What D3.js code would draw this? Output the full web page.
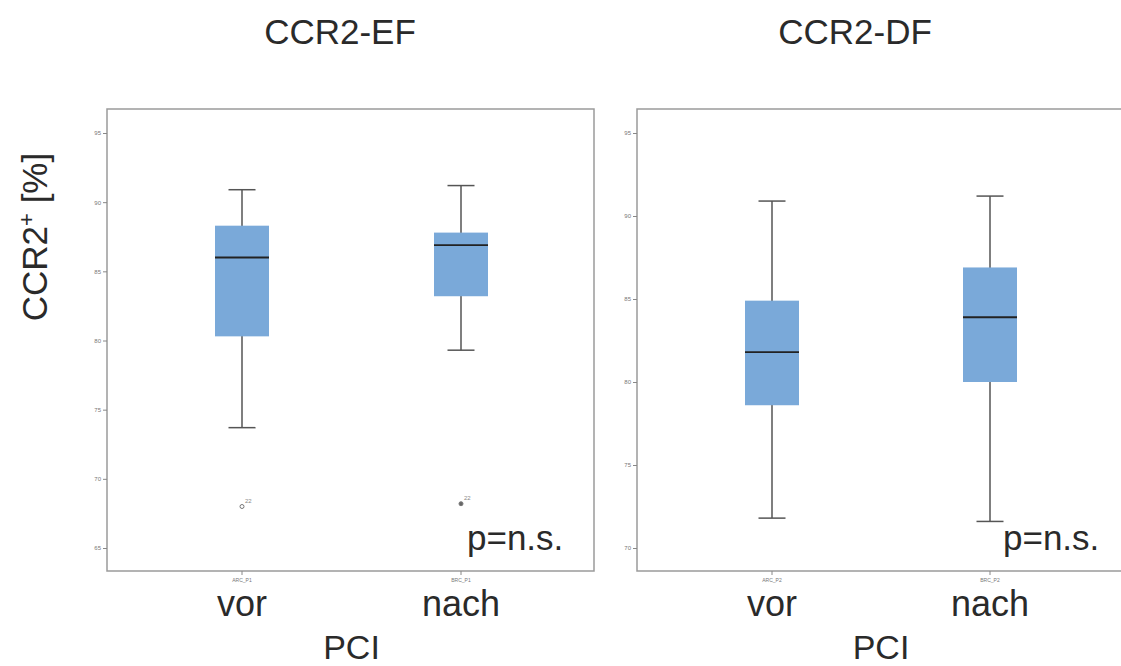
<!DOCTYPE html>
<html>
<head>
<meta charset="utf-8">
<script src="https://cdn.jsdelivr.net/npm/d3@7"></script>
<style>
  body { margin: 0; background: #fff; }
  svg text { font-family: "Liberation Sans", Arial, sans-serif; }
</style>
</head>
<body>
<div class="chart"></div>
<script>
var svgWidth = 1121;
var svgHeight = 666;

// data
var panelTitles = ["CCR2-EF", "CCR2-DF"];
var groups = ["vor", "nach"];
var tickCodes = [["ARC_P1", "BRC_P1"], ["ARC_P2", "BRC_P2"]];
var yTicksEF = [65, 70, 75, 80, 85, 90, 95];
var yTicksDF = [70, 75, 80, 85, 90, 95];
// [low whisker, Q1, median, Q3, high whisker]
var statsEF = [[73.7, 80.3, 86.0, 88.3, 90.9], [79.3, 83.2, 86.9, 87.8, 91.2]];
var statsDF = [[71.8, 78.6, 81.8, 84.9, 90.9], [71.6, 80.0, 83.9, 86.9, 91.2]];
var outliersEF = [68.0, 68.2];
var outlierLabels = ["22", "22"];

var panels = [
  { left: 107, right: 594, top: 109, bottom: 571, domain: [65, 95], yTop: 133, yBottom: 548,
    ticks: yTicksEF, stats: statsEF, outliers: outliersEF, xs: [242, 461], pX: 467, titleX: 340 },
  { left: 637, right: 1130, top: 109, bottom: 571, domain: [70, 95], yTop: 133, yBottom: 548,
    ticks: yTicksDF, stats: statsDF, outliers: null, xs: [772, 990], pX: 1003, titleX: 855 }
];

var svg = d3.select(".chart")
  .append("svg")
  .attr("width", svgWidth)
  .attr("height", svgHeight);

panels.forEach(function(p, pi) {
  var g = svg.append("g");

  var yScale = d3.scaleLinear()
    .domain(p.domain)
    .range([p.yBottom, p.yTop]);

  var xScale = d3.scaleOrdinal()
    .domain(groups)
    .range(p.xs);

  // frame
  g.append("rect")
    .attr("x", p.left)
    .attr("y", p.top)
    .attr("width", p.right - p.left)
    .attr("height", p.bottom - p.top)
    .attr("fill", "none")
    .attr("stroke", "#9a9a9a")
    .attr("stroke-width", 1.5);

  // y axis
  var leftAxis = d3.axisLeft(yScale).tickValues(p.ticks).tickSize(4).tickPadding(2);
  var ya = g.append("g")
    .attr("transform", "translate(" + p.left + ",0)")
    .call(leftAxis);
  ya.select(".domain").remove();
  ya.selectAll("line").attr("stroke", "#888");
  ya.selectAll("text").attr("fill", "#777").style("font-size", "6px");

  // x axis ticks
  g.selectAll(".xt")
    .data(groups)
    .enter().append("line")
    .attr("x1", function(d) { return xScale(d); })
    .attr("x2", function(d) { return xScale(d); })
    .attr("y1", p.bottom)
    .attr("y2", p.bottom + 4)
    .attr("stroke", "#888");

  g.selectAll(".xc")
    .data(groups)
    .enter().append("text")
    .attr("x", function(d) { return xScale(d); })
    .attr("y", p.bottom + 11)
    .attr("text-anchor", "middle")
    .attr("fill", "#777")
    .style("font-size", "5px")
    .text(function(d, i) { return tickCodes[pi][i]; });

  // big group labels
  g.selectAll(".gl")
    .data(groups)
    .enter().append("text")
    .attr("x", function(d) { return xScale(d); })
    .attr("y", p.bottom + 45)
    .attr("text-anchor", "middle")
    .attr("fill", "#2a2a2a")
    .style("font-size", "36px")
    .text(function(d) { return d; });

  g.append("text")
    .attr("x", d3.mean(p.xs))
    .attr("y", 659)
    .attr("text-anchor", "middle")
    .attr("fill", "#2a2a2a")
    .style("font-size", "34px")
    .text("PCI");

  // title
  g.append("text")
    .attr("x", p.titleX)
    .attr("y", 44)
    .attr("text-anchor", "middle")
    .attr("fill", "#2a2a2a")
    .style("font-size", "35px")
    .text(panelTitles[pi]);

  // boxes
  var boxW = 54;
  var box = g.selectAll(".box")
    .data(p.stats)
    .enter().append("g");

  box.append("line")
    .attr("x1", function(d, i) { return p.xs[i]; })
    .attr("x2", function(d, i) { return p.xs[i]; })
    .attr("y1", function(d) { return yScale(d[0]); })
    .attr("y2", function(d) { return yScale(d[4]); })
    .attr("stroke", "#555")
    .attr("stroke-width", 1.5);

  [0, 4].forEach(function(k) {
    box.append("line")
      .attr("x1", function(d, i) { return p.xs[i] - boxW / 4; })
      .attr("x2", function(d, i) { return p.xs[i] + boxW / 4; })
      .attr("y1", function(d) { return yScale(d[k]); })
      .attr("y2", function(d) { return yScale(d[k]); })
      .attr("stroke", "#555")
      .attr("stroke-width", 1.5);
  });

  box.append("rect")
    .attr("x", function(d, i) { return p.xs[i] - boxW / 2; })
    .attr("y", function(d) { return yScale(d[3]); })
    .attr("width", boxW)
    .attr("height", function(d) { return yScale(d[1]) - yScale(d[3]); })
    .attr("fill", "#7aa9d9");

  box.append("line")
    .attr("x1", function(d, i) { return p.xs[i] - boxW / 2; })
    .attr("x2", function(d, i) { return p.xs[i] + boxW / 2; })
    .attr("y1", function(d) { return yScale(d[2]); })
    .attr("y2", function(d) { return yScale(d[2]); })
    .attr("stroke", "#222")
    .attr("stroke-width", 1.8);

  // outliers
  if (p.outliers) {
    g.selectAll(".out")
      .data(p.outliers)
      .enter().append("circle")
      .attr("cx", function(d, i) { return p.xs[i]; })
      .attr("cy", function(d) { return yScale(d); })
      .attr("r", 2)
      .attr("fill", function(d, i) { return i === 1 ? "#666" : "none"; })
      .attr("stroke", "#777");
    g.selectAll(".outl")
      .data(p.outliers)
      .enter().append("text")
      .attr("x", function(d, i) { return p.xs[i] + 3; })
      .attr("y", function(d) { return yScale(d) - 4; })
      .attr("fill", "#888")
      .style("font-size", "6px")
      .text(function(d, i) { return outlierLabels[i]; });
  }

  // p value
  g.append("text")
    .attr("x", p.pX)
    .attr("y", 550)
    .attr("fill", "#2a2a2a")
    .style("font-size", "35px")
    .text("p=n.s.");
});

// y axis title
svg.append("text")
  .attr("transform", "translate(47,237) rotate(-90)")
  .attr("text-anchor", "middle")
  .attr("fill", "#2a2a2a")
  .style("font-size", "35px")
  .html("CCR2<tspan dy='-13' style='font-size:22px'>+</tspan><tspan dy='13'> [%]</tspan>");
</script>
</body>
</html>
